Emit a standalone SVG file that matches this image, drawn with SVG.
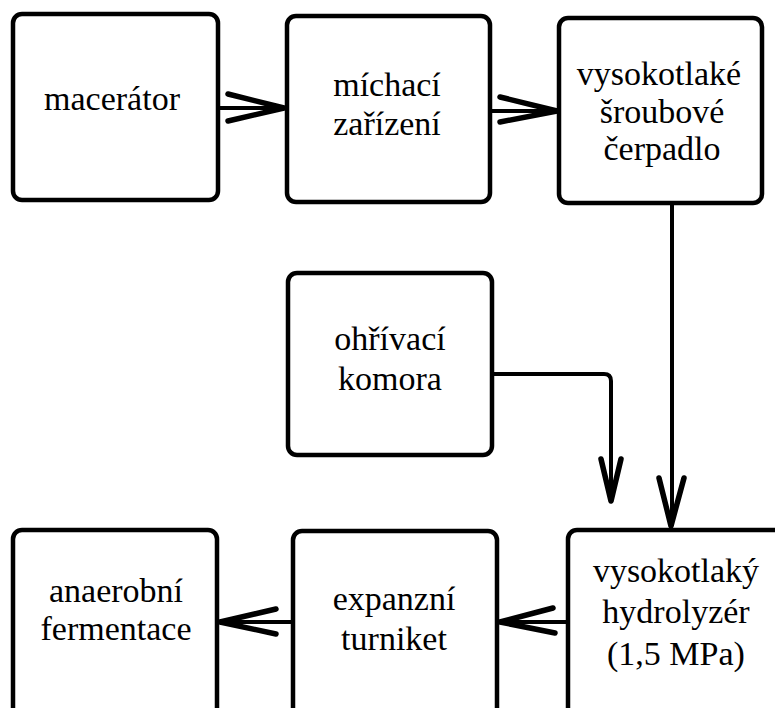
<svg xmlns="http://www.w3.org/2000/svg" width="775" height="708" viewBox="0 0 775 708">
<defs>
<rect id="boxshape" width="204" height="186" rx="9" fill="#fff" stroke="#000" stroke-width="4.5"/>
</defs>
<rect width="775" height="708" fill="#fff"/>
<g id="connectors" fill="none" stroke="#000">
<g stroke-width="4">
<path d="M218 108 H284"/>
<path d="M490 111 H557"/>
<path d="M672 203 V526"/>
<path d="M492 374 H604 Q611 374 611 381 V501"/>
<path d="M568 622 H500"/>
<path d="M293 622 H220"/>
</g>
<g stroke-width="5.5" stroke-linecap="round" stroke-linejoin="round">
<path d="M228 94 L284 108 L228 121"/>
<path d="M500 97 L557 111 L500 122"/>
<path d="M659 478 L671 526 L684 478"/>
<path d="M601 459 L611 501 L621 459"/>
<path d="M553 608 L500 622 L555 633"/>
<path d="M276 609 L220 622 L276 634"/>
</g>
</g>
<g id="nodes" font-family="Liberation Serif, serif" font-size="34" fill="#000" text-anchor="middle">
<g id="macerator">
<rect x="13" y="14" width="205" height="186" rx="9" fill="#fff" stroke="#000" stroke-width="4.5"/>
<text x="112" y="110">macerátor</text>
</g>
<g id="michaci">
<rect x="287" y="16" width="203" height="186" rx="9" fill="#fff" stroke="#000" stroke-width="4.5"/>
<text x="387" y="96">míchací</text>
<text x="387" y="135">zařízení</text>
</g>
<g id="cerpadlo">
<rect x="559" y="18" width="203" height="185" rx="9" fill="#fff" stroke="#000" stroke-width="4.5"/>
<text x="659" y="85">vysokotlaké</text>
<text x="662" y="123">šroubové</text>
<text x="662" y="160">čerpadlo</text>
</g>
<g id="ohrivaci">
<rect x="288" y="273" width="204" height="182" rx="9" fill="#fff" stroke="#000" stroke-width="4.5"/>
<text x="390" y="350">ohřívací</text>
<text x="390" y="390">komora</text>
</g>
<g id="hydrolyzer">
<rect x="568" y="530" width="230" height="200" rx="9" fill="#fff" stroke="#000" stroke-width="4.5"/>
<text x="676" y="582">vysokotlaký</text>
<text x="676" y="623">hydrolyzér</text>
<text x="676" y="665">(1,5 MPa)</text>
</g>
<g id="turniket">
<rect x="293" y="531" width="204" height="200" rx="9" fill="#fff" stroke="#000" stroke-width="4.5"/>
<text x="394" y="610">expanzní</text>
<text x="394" y="650">turniket</text>
</g>
<g id="fermentace">
<rect x="13" y="530" width="204" height="200" rx="9" fill="#fff" stroke="#000" stroke-width="4.5"/>
<text x="116" y="602">anaerobní</text>
<text x="116" y="640">fermentace</text>
</g>
</g>
</svg>
